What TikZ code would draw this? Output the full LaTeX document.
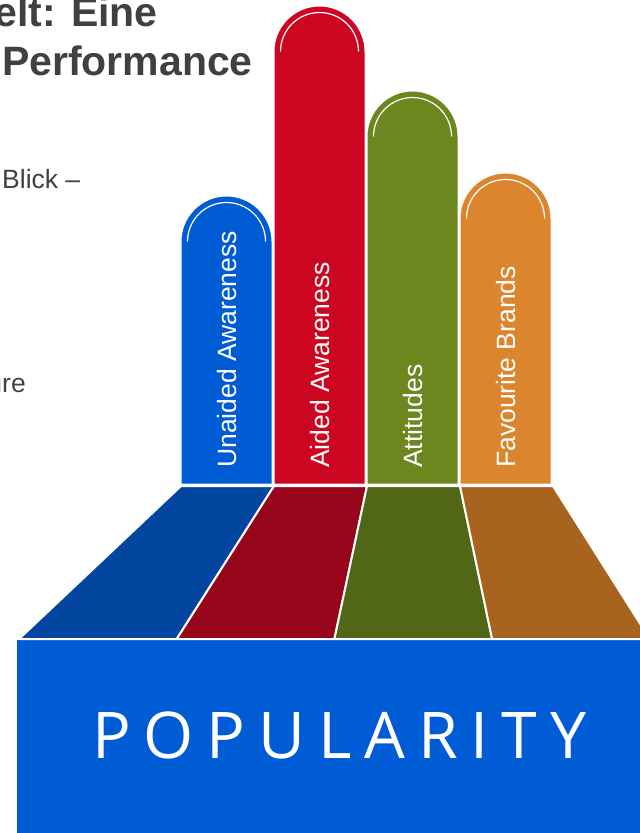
\documentclass[tikz,border=0pt]{standalone}
\usepackage{fontspec}
\setmainfont{Liberation Sans}
\newfontfamily\popfont[LetterSpace=20]{Open Sans}
\usepackage{xcolor}
\usepackage{tikz}

\definecolor{popblue}{RGB}{0,92,212}
\definecolor{popred}{RGB}{204,6,32}
\definecolor{popgreen}{RGB}{107,135,30}
\definecolor{poporange}{RGB}{219,133,46}
\definecolor{flblue}{RGB}{3,70,159}
\definecolor{flred}{RGB}{150,5,26}
\definecolor{flgreen}{RGB}{81,102,22}
\definecolor{florange}{RGB}{168,100,31}
\definecolor{txtgray}{RGB}{64,64,64}

\begin{document}
\begin{tikzpicture}[x=1pt, y=-1pt,
    pillar/.style={draw=white, line width=1pt},
    floor/.style={draw=white, line width=2pt, line join=round},
    pillarlabel/.style={text=white, rotate=90, anchor=west, inner sep=0pt, text depth=0pt, font=\fontsize{26.5}{30}\selectfont},
    headline/.style={text=txtgray, inner sep=0pt, font=\fontsize{41}{48}\selectfont\bfseries},
    bodytext/.style={text=txtgray, inner sep=0pt, font=\fontsize{26.5}{32}\selectfont}]
    \useasboundingbox (0,0) rectangle (640,833);
    \clip (0,0) rectangle (640,833);

    % heading and text on the left
    \node[headline, anchor=base east] (head1) at (158,26) {elt: Eine};
    \node[headline, anchor=base east] (head2) at (253,75) {Performance};
    \node[bodytext, anchor=base west] (line1) at (2,188) {Blick –};
    \node[bodytext, anchor=base east] (line2) at (26,392) {ure};

    % base block
    \fill[popblue] (17,640) rectangle (660,850);
    \node[text=white, inner sep=0pt, anchor=base west, font=\fontsize{64.4}{70}\popfont] (pop) at (92,758) {POPULARITY};

    % floor
    \foreach \i/\c in {0/flblue, 1/flred, 2/flgreen, 3/florange}
        \filldraw[floor, fill=\c] (181+93*\i,486) -- (274+93*\i,486) -- (176.7+157.7*\i,639) -- (19+157.7*\i,639) -- cycle;

    % pillars
    \foreach \i/\top/\c/\txt in {0/196/popblue/Unaided Awareness, 1/6/popred/Aided Awareness, 2/91/popgreen/Attitudes, 3/173/poporange/Favourite Brands} {
        \pgfmathsetmacro\xl{181+93*\i}
        \filldraw[pillar, fill=\c] (\xl,484) -- (\xl,\top+45.5) arc[start angle=180, end angle=0, radius=45.5pt] -- (\xl+91,484) -- cycle;
        \draw[white, line width=1.2pt] (\xl+6.5,\top+45.5) arc[start angle=180, end angle=0, radius=39pt];
        \node[pillarlabel] (label\i) at (\xl+45.5,468) {\txt};
    }
\end{tikzpicture}
\end{document}
